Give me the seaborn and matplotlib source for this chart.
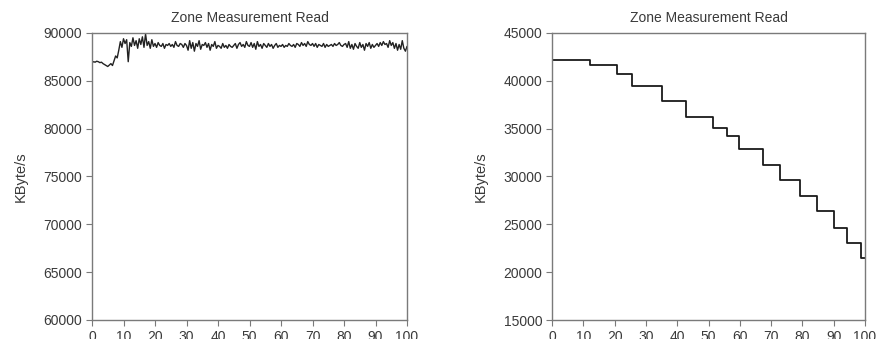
import numpy as np
import pandas as pd
import matplotlib
matplotlib.use("Agg")
import matplotlib.pyplot as plt
import seaborn as sns

sns.set_theme(style="white")
plt.rcParams['font.family'] = ['Liberation Sans', 'DejaVu Sans']

# ---- data ----
left_x = [i * 0.5 for i in range(201)]
left_y = [
    86900, 87000, 86950, 87050, 87000, 86900, 86950, 86800, 86700, 86600,
    86500, 86650, 86800, 86600, 87100,
    87600, 87400, 88200, 89100, 88500, 89400, 88900, 89300, 87000, 89000,
    88600, 89500, 88700, 89200, 88400, 89400, 88800, 89600, 88500, 89900,
    88700, 89100, 88400, 89300, 88600, 88900,
    88500, 89000, 88700, 88600, 88900, 88400, 88800, 88700, 88900, 88600,
    88800, 88500, 89100, 88700, 88600, 88900, 88800, 88500, 88900, 88700,
    88200, 89200, 88400, 89000, 88100, 88900, 88600, 89200, 88300, 88800,
    88700, 89000, 88500, 88900, 88200, 88800, 88600, 89100, 88400, 88700,
    88600, 88400, 88900, 88500, 88700, 88400, 88800, 88600, 88500, 88700,
    88900, 88400, 88800, 89000, 88600, 88800, 88500, 89100, 88700, 88600,
    89000, 88500, 88900, 88300, 89100, 88600, 88800, 88400, 88900, 88700,
    88500, 88900, 88600, 88800, 88400, 88700, 88900, 88500, 88700, 88600,
    88800, 88500, 88700, 88600, 88900, 88700, 88600, 88800, 88500, 88900,
    88800, 88600, 89000, 88700, 88900, 88600, 89100, 88800, 88700, 88900,
    88600, 88900, 88500, 88800, 88700, 88600, 88900, 88500, 88800, 88600,
    88700, 88800, 88600, 88900, 88700, 88800, 89000, 88700, 88600, 88800,
    88900, 88500, 89100, 88400, 88800, 88300, 88900, 88600, 88400, 89000,
    88500, 88800, 88200, 88900, 88600, 89000, 88400, 88800, 88500, 88700,
    88900, 88600, 89000, 88700, 89100, 88800, 88900, 88500, 89200, 88700,
    89000, 88400, 88900, 88200, 88800, 88300, 89200, 88400, 88100, 88600,
]

step_start = [0, 12.3, 20.8, 25.4, 35.3, 42.7, 51.3, 56.0, 59.8, 67.4,
              72.7, 79.3, 84.7, 90.0, 94.3, 98.7, 100]
step_level = [42200, 41650, 40750, 39450, 37850, 36250, 35100, 34250, 32900,
              31250, 29600, 27950, 26350, 24650, 23000, 21450, 21450]

title = "Zone Measurement Read"
ylabel = "KByte/s"
x_ticks = list(range(0, 101, 10))
left_yticks = list(range(60000, 90001, 5000))
right_yticks = list(range(15000, 45001, 5000))

# ---- figure ----
W, H = 876, 339
fig = plt.figure(figsize=(W / 100, H / 100), dpi=100)
ax1 = fig.add_axes([92 / W, (H - 320) / H, 315 / W, 287 / H])
ax2 = fig.add_axes([552 / W, (H - 320) / H, 313 / W, 287 / H])

text_c = '#3a3a3a'
spine_c = '#7a7a7a'

df_l = pd.DataFrame({'x': left_x, 'y': left_y})
sns.lineplot(data=df_l, x='x', y='y', ax=ax1, color='#222222', lw=1.0)

df_r = pd.DataFrame({'x': step_start, 'y': step_level})
sns.lineplot(data=df_r, x='x', y='y', ax=ax2, color='#1a1a1a', lw=1.3,
             drawstyle='steps-post')

for ax, yt in ((ax1, left_yticks), (ax2, right_yticks)):
    ax.set_xlim(0, 100)
    ax.set_ylim(yt[0], yt[-1])
    ax.set_xticks(x_ticks)
    ax.set_yticks(yt)
    ax.set_yticklabels([str(v) for v in yt])
    ax.set_xlabel('')
    ax.set_ylabel(ylabel, fontsize=10.5, color=text_c, labelpad=11)
    ax.set_title(title, fontsize=10, color=text_c, pad=8)
    ax.tick_params(axis='both', which='both', direction='out', length=4,
                   width=0.8, color=spine_c, labelsize=10, labelcolor=text_c,
                   left=True, bottom=True, pad=3)
    for s in ax.spines.values():
        s.set_color(spine_c)
        s.set_linewidth(1.0)
    ax.grid(False)

fig.savefig('out.png', dpi=100, facecolor='white')
